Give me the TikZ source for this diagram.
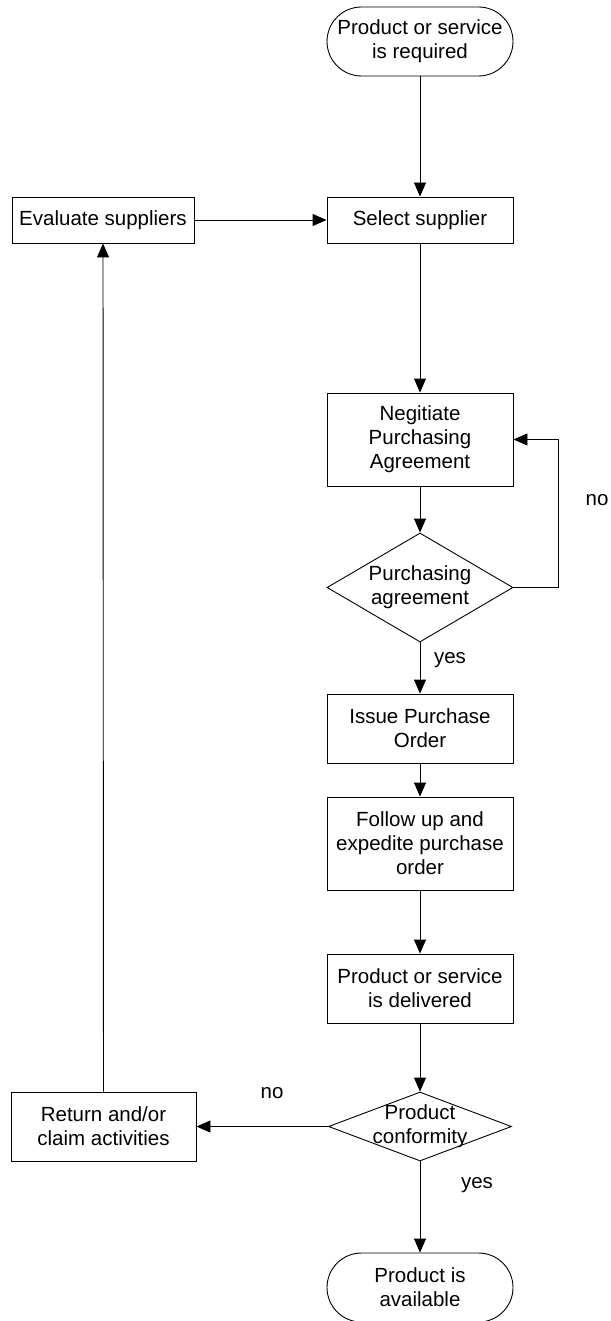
\documentclass[tikz,border=0pt]{standalone}
\usepackage{fontspec}
\setmainfont{Liberation Sans}
\usetikzlibrary{arrows.meta,shapes.geometric}

\begin{document}
\begin{tikzpicture}[x = 1pt, y = -1pt, line width = 0.9pt,
	every node/.style = {font = \fontsize{20.5}{24}\selectfont, align = center},
	box/.style = {draw, shape = rectangle, minimum width = 186, minimum height = 46, inner sep = 0},
	term/.style = {box, rounded corners = 34.5, minimum height = 69},
	dec/.style = {draw, shape = diamond, minimum width = 186, minimum height = 109, inner sep = 0},
	arr/.style = {-{Triangle[length = 14pt, width = 12pt]}}]
	\useasboundingbox (0, 0) rectangle (610, 1321);
	\node[term] (start) at (420, 41.5) {Product or service\\is required};
	\node[box] (select) at (420, 220) {Select supplier};
	\node[box, minimum width = 182] (evaluate) at (103, 220) {Evaluate suppliers};
	\node[box, minimum height = 93] (negotiate) at (420, 439.5) {Negitiate\\Purchasing\\Agreement};
	\node[dec, label = center:{Purchasing\\agreement}] (purch) at (420, 587.5) {};
	\node[box, minimum height = 69] (issue) at (420, 728.5) {Issue Purchase\\Order};
	\node[box, minimum height = 93] (follow) at (420, 843.5) {Follow up and\\expedite purchase\\order};
	\node[box, minimum height = 69] (delivered) at (420, 988.5) {Product or service\\is delivered};
	\node[dec, minimum width = 183, minimum height = 69, label = center:{Product\\conformity}] (conform) at (420, 1126.5) {};
	\node[box, minimum width = 185, minimum height = 69] (return) at (103.5, 1126.5) {Return and/or\\claim activities};
	\node[term] (final) at (420, 1287.5) {Product is\\available};
	\coordinate (loop) at (558, 587.5);
	% connectors
	\foreach \a/\b in {start/select, evaluate/select, select/negotiate, negotiate/purch, purch/issue,
		issue/follow, follow/delivered, delivered/conform, conform/return, return/evaluate, conform/final}{
		\draw[arr] (\a) -- (\b);}
	\draw[arr] (purch.east) -- (loop) |- (negotiate.east);
	\node (noA) at (597, 500) {no};
	\node (yesA) at (450, 660) {yes};
	\node (noB) at (272, 1093) {no};
	\node (yesB) at (477, 1185) {yes};
\end{tikzpicture}
\end{document}
